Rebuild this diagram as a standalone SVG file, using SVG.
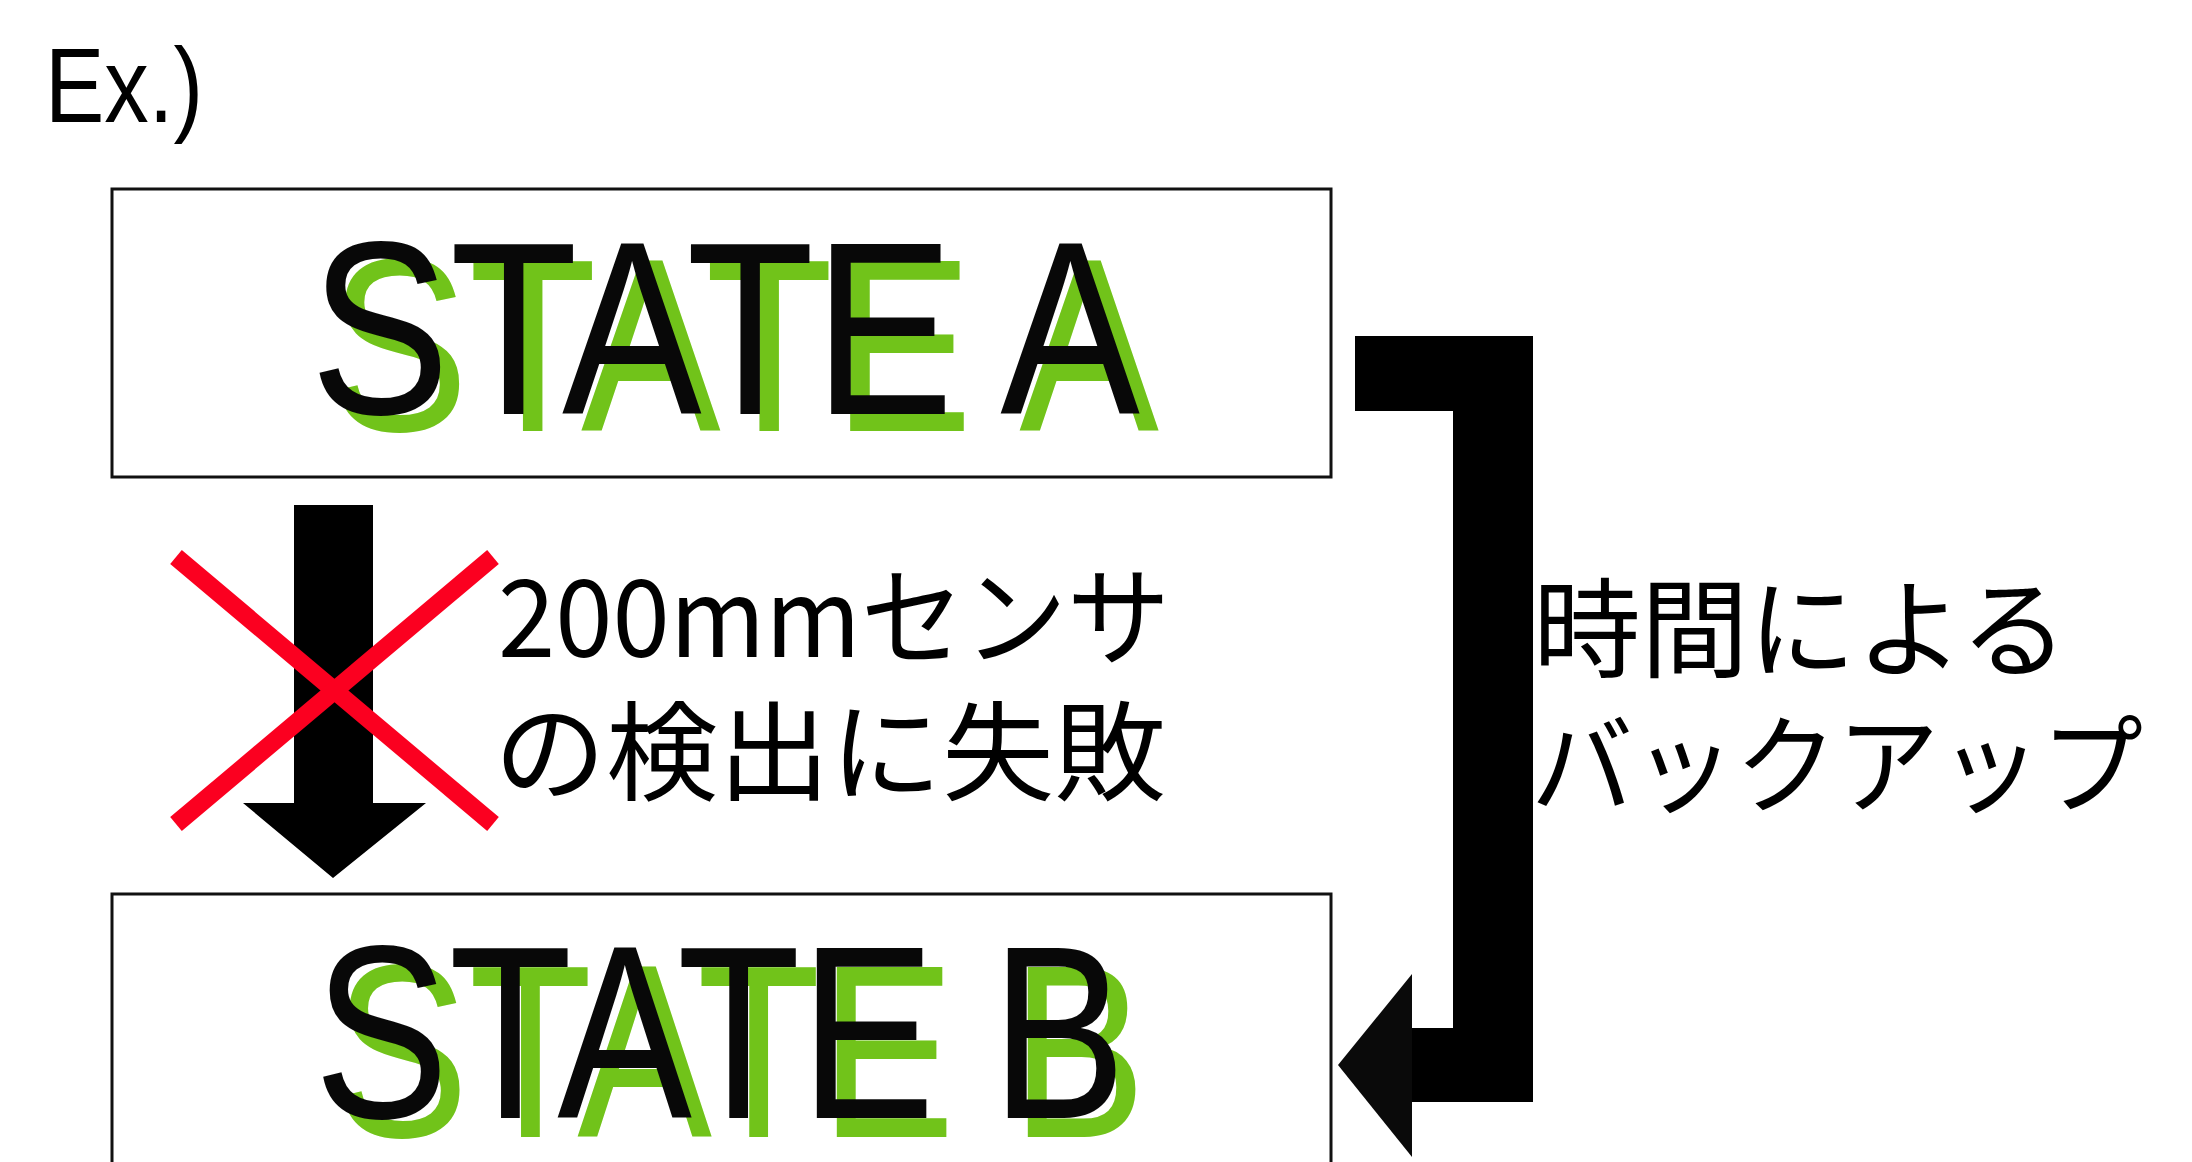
<svg xmlns="http://www.w3.org/2000/svg" width="2192" height="1162" viewBox="0 0 2192 1162">
<style>
.box{fill:#fff;stroke:#111;stroke-width:3}
.big{font-family:"Liberation Sans",Arial,sans-serif;font-size:246px}
.sh{fill:#71c31a}
.fg{fill:#080808}
.jp{font-family:"Noto Sans CJK JP","Noto Sans",sans-serif;font-size:108px;fill:#000}
.cx{stroke:#fb0020;stroke-width:18;stroke-linecap:butt}
.ar{fill:#000}
</style>
<rect width="2192" height="1162" fill="#fff"/>
<g id="title">
<text x="45" y="122" font-family="'Liberation Sans',Arial,sans-serif" font-size="106" textLength="158" lengthAdjust="spacingAndGlyphs" fill="#000">Ex.)</text>
</g>
<g id="node-state-a">
<rect class="box" x="112" y="189" width="1219" height="288"/>
<text class="big sh" x="329" y="431" textLength="830" lengthAdjust="spacingAndGlyphs">STATE A</text>
<text class="big fg" x="310" y="414" textLength="830" lengthAdjust="spacingAndGlyphs">STATE A</text>
</g>
<g id="node-state-b">
<rect class="box" x="112" y="894" width="1219" height="320"/>
<text class="big sh" x="334" y="1137" textLength="812" lengthAdjust="spacingAndGlyphs">STATE B</text>
<text class="big fg" x="314" y="1118" textLength="812" lengthAdjust="spacingAndGlyphs">STATE B</text>
</g>
<g id="connectors">
<g id="edge-a-b-sensor">
<polygon class="ar" points="294,505 373,505 373,803 426,803 333,878 243,803 294,803"/>
<line class="cx" x1="176" y1="557" x2="493" y2="824"/>
<line class="cx" x1="493" y1="557" x2="176" y2="824"/>
</g>
<g id="edge-a-b-time">
<path class="ar" d="M1355,336 H1533 V1102 H1410 V1028 H1453 V411 H1355 Z"/>
<polygon fill="#0a0a0a" points="1412,974 1338,1065 1412,1157"/>
</g>
</g>
<g id="label-sensor">
<text class="jp" x="498" y="657" textLength="672" lengthAdjust="spacingAndGlyphs">200mmセンサ</text>
<text class="jp" x="494" y="792" textLength="672" lengthAdjust="spacingAndGlyphs">の検出に失敗</text>
</g>
<g id="label-time">
<text class="jp" x="1533" y="669" textLength="535" lengthAdjust="spacingAndGlyphs">時間による</text>
<text class="jp" x="1531" y="805" textLength="612" lengthAdjust="spacingAndGlyphs">バックアップ</text>
</g>
</svg>
